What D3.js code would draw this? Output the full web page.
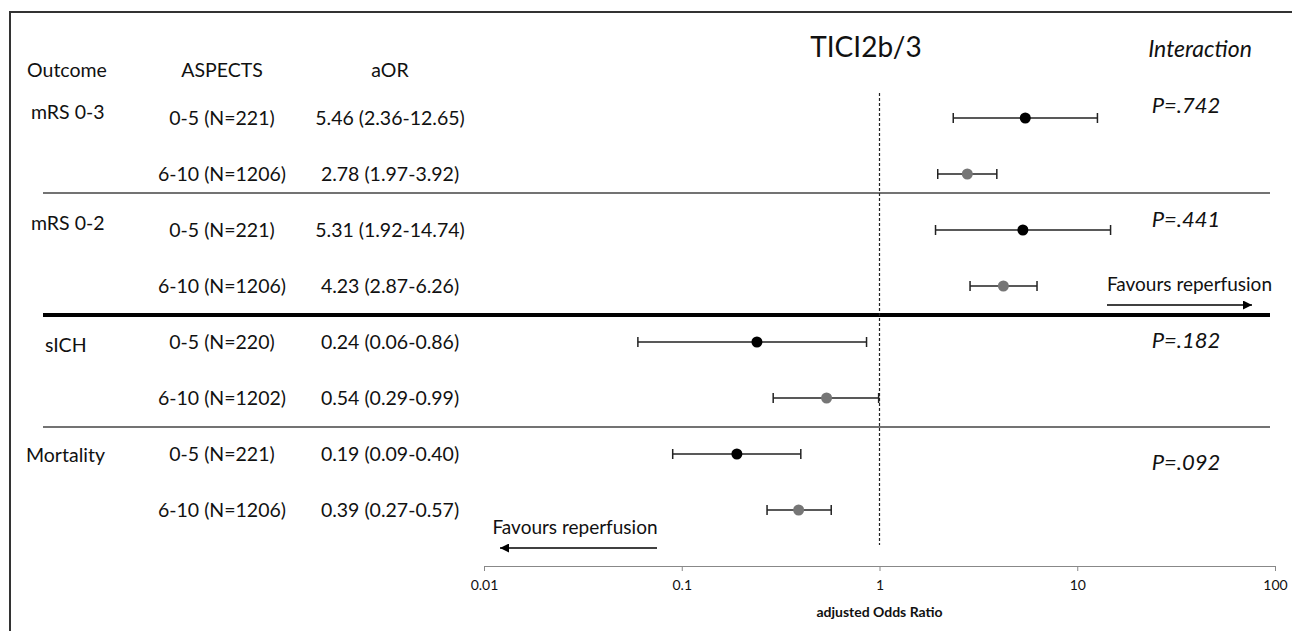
<!DOCTYPE html>
<html>
<head>
<meta charset="utf-8">
<script src="https://cdn.jsdelivr.net/npm/d3@7"></script>
<style>
  body { margin: 0; background: #fff; }
  svg { display: block; font-family: Lato, "Open Sans", sans-serif; }
</style>
</head>
<body>
<svg class="chart"></svg>
<script>
var width = 1292, height = 631;

// data
var outcomes = ["mRS 0-3", "mRS 0-2", "sICH", "Mortality"];
var aspects = ["0-5 (N=221)", "6-10 (N=1206)", "0-5 (N=221)", "6-10 (N=1206)",
               "0-5 (N=220)", "6-10 (N=1202)", "0-5 (N=221)", "6-10 (N=1206)"];
var aor = [5.46, 2.78, 5.31, 4.23, 0.24, 0.54, 0.19, 0.39];
var lower = [2.36, 1.97, 1.92, 2.87, 0.06, 0.29, 0.09, 0.27];
var upper = [12.65, 3.92, 14.74, 6.26, 0.86, 0.99, 0.40, 0.57];
var pValues = ["P=.742", "P=.441", "P=.182", "P=.092"];
var tickValues = [0.01, 0.1, 1, 10, 100];

var rows = aor.map(function(d, i) {
  return {i: i, aspects: aspects[i], or: d, lo: lower[i], hi: upper[i], low: i % 2 == 0};
});

var x = d3.scaleLog()
    .domain([0.01, 100])
    .range([484, 1275]);

var y = d3.scalePoint()
    .domain(d3.range(rows.length))
    .range([118, 510]);

var fmt = d3.format(".2f");

var chart = d3.select(".chart")
    .attr("width", width)
    .attr("height", height);

// frame (left + top only)
chart.append("path")
    .attr("d", "M10," + height + "V12H" + width)
    .attr("fill", "none")
    .attr("stroke", "#333")
    .attr("stroke-width", 2);

// headers
var header = chart.append("g").style("font-size", "19.5px").attr("fill", "#111");
header.append("text").attr("x", 67).attr("y", 70).attr("text-anchor", "middle").attr("dy", ".35em").text("Outcome");
header.append("text").attr("x", 222).attr("y", 70).attr("text-anchor", "middle").attr("dy", ".35em").text("ASPECTS");
header.append("text").attr("x", 390).attr("y", 70).attr("text-anchor", "middle").attr("dy", ".35em").text("aOR");

chart.append("text")
    .attr("x", 866).attr("y", 47)
    .attr("text-anchor", "middle").attr("dy", ".35em")
    .style("font-size", "28px")
    .attr("fill", "#111")
    .text("TICI2b/3");

chart.append("text")
    .attr("x", 1200).attr("y", 49)
    .attr("text-anchor", "middle").attr("dy", ".35em")
    .style("font-size", "23px").style("font-style", "italic")
    .attr("fill", "#111")
    .text("Interaction");

// group separators
var sepY = [193, 315, 427];
chart.selectAll(".sep")
    .data(sepY)
    .enter().append("line")
    .attr("class", "sep")
    .attr("x1", 43).attr("x2", 1270)
    .attr("y1", function(d) { return d; })
    .attr("y2", function(d) { return d; })
    .attr("stroke", function(d, i) { return i == 1 ? "#000" : "#444"; })
    .attr("stroke-width", function(d, i) { return i == 1 ? 4 : 1.3; });

// outcome labels
var outcomeDy = [-6, -7, 3, 1];
chart.selectAll(".outcome")
    .data(outcomes)
    .enter().append("text")
    .attr("class", "outcome")
    .attr("x", function(d, i) { return i == 2 ? 45 : (i == 3 ? 26 : 31); })
    .attr("y", function(d, i) { return y(i * 2) + outcomeDy[i]; })
    .attr("dy", ".35em")
    .style("font-size", "19.5px")
    .attr("fill", "#111")
    .text(function(d) { return d; });

// row labels
chart.selectAll(".asp")
    .data(rows)
    .enter().append("text")
    .attr("class", "asp")
    .attr("x", 222)
    .attr("y", function(d) { return y(d.i); })
    .attr("dy", ".35em")
    .attr("text-anchor", "middle")
    .style("font-size", "19.5px")
    .attr("fill", "#111")
    .text(function(d) { return d.aspects; });

chart.selectAll(".aor")
    .data(rows)
    .enter().append("text")
    .attr("class", "aor")
    .attr("x", 390)
    .attr("y", function(d) { return y(d.i); })
    .attr("dy", ".35em")
    .attr("text-anchor", "middle")
    .style("font-size", "19.5px")
    .attr("fill", "#111")
    .text(function(d) { return fmt(d.or) + " (" + fmt(d.lo) + "-" + fmt(d.hi) + ")"; });

// p values
var pY = [105, 219, 340, 462];
chart.selectAll(".pval")
    .data(pValues)
    .enter().append("text")
    .attr("class", "pval")
    .attr("x", 1186)
    .attr("y", function(d, i) { return pY[i]; })
    .attr("dy", ".35em")
    .attr("text-anchor", "middle")
    .style("font-size", "22px").style("font-style", "italic")
    .attr("fill", "#111")
    .text(function(d) { return d; });

// reference line at OR = 1
chart.append("line")
    .attr("x1", x(1)).attr("x2", x(1))
    .attr("y1", 93).attr("y2", 545)
    .attr("stroke", "#222")
    .attr("stroke-width", 1.2)
    .attr("stroke-dasharray", "3,2");

// error bars
var bars = chart.selectAll(".ci")
    .data(rows)
    .enter().append("g")
    .attr("class", "ci")
    .attr("stroke", "#222")
    .attr("stroke-width", 1.5);

bars.append("line")
    .attr("x1", function(d) { return x(d.lo); })
    .attr("x2", function(d) { return x(d.hi); })
    .attr("y1", function(d) { return y(d.i); })
    .attr("y2", function(d) { return y(d.i); });

bars.append("line")
    .attr("x1", function(d) { return x(d.lo); })
    .attr("x2", function(d) { return x(d.lo); })
    .attr("y1", function(d) { return y(d.i) - 5; })
    .attr("y2", function(d) { return y(d.i) + 5; });

bars.append("line")
    .attr("x1", function(d) { return x(d.hi); })
    .attr("x2", function(d) { return x(d.hi); })
    .attr("y1", function(d) { return y(d.i) - 5; })
    .attr("y2", function(d) { return y(d.i) + 5; });

chart.selectAll(".dot")
    .data(rows)
    .enter().append("circle")
    .attr("class", "dot")
    .attr("cx", function(d) { return x(d.or); })
    .attr("cy", function(d) { return y(d.i); })
    .attr("r", 5.5)
    .attr("fill", function(d) { return d.low ? "#000" : "#767676"; });

// favours arrows
chart.append("defs").append("marker")
    .attr("id", "head")
    .attr("viewBox", "0 0 10 10")
    .attr("refX", 10).attr("refY", 5)
    .attr("markerWidth", 12).attr("markerHeight", 9)
    .attr("markerUnits", "userSpaceOnUse")
    .attr("orient", "auto")
  .append("path")
    .attr("d", "M0,0L10,5L0,10Z")
    .attr("fill", "#000");

chart.append("text")
    .attr("x", 1272).attr("y", 284)
    .attr("dy", ".35em").attr("text-anchor", "end")
    .style("font-size", "19px").attr("fill", "#111")
    .text("Favours reperfusion");

chart.append("line")
    .attr("x1", 1107).attr("x2", 1252)
    .attr("y1", 305).attr("y2", 305)
    .attr("stroke", "#000").attr("stroke-width", 1.5)
    .attr("marker-end", "url(#head)");

chart.append("text")
    .attr("x", 575).attr("y", 527)
    .attr("dy", ".35em").attr("text-anchor", "middle")
    .style("font-size", "19px").attr("fill", "#111")
    .text("Favours reperfusion");

chart.append("line")
    .attr("x1", 657).attr("x2", 500)
    .attr("y1", 548).attr("y2", 548)
    .attr("stroke", "#000").attr("stroke-width", 1.5)
    .attr("marker-end", "url(#head)");

// x axis
var xAxis = d3.axisBottom(x)
    .tickValues(tickValues)
    .tickFormat(function(d) { return d; })
    .tickSize(5);

var axis = chart.append("g")
    .attr("class", "x axis")
    .attr("transform", "translate(0,566)")
    .call(xAxis);

axis.select(".domain").attr("stroke", "#888");
axis.selectAll(".tick line").attr("stroke", "#888");
axis.selectAll("text")
    .style("font-family", "Lato, sans-serif")
    .style("font-size", "14px")
    .attr("fill", "#111")
    .attr("y", 14);

chart.append("text")
    .attr("x", x(1)).attr("y", 612)
    .attr("dy", ".35em").attr("text-anchor", "middle")
    .style("font-size", "14px").style("font-weight", "bold")
    .attr("fill", "#111")
    .text("adjusted Odds Ratio");
</script>
</body>
</html>
